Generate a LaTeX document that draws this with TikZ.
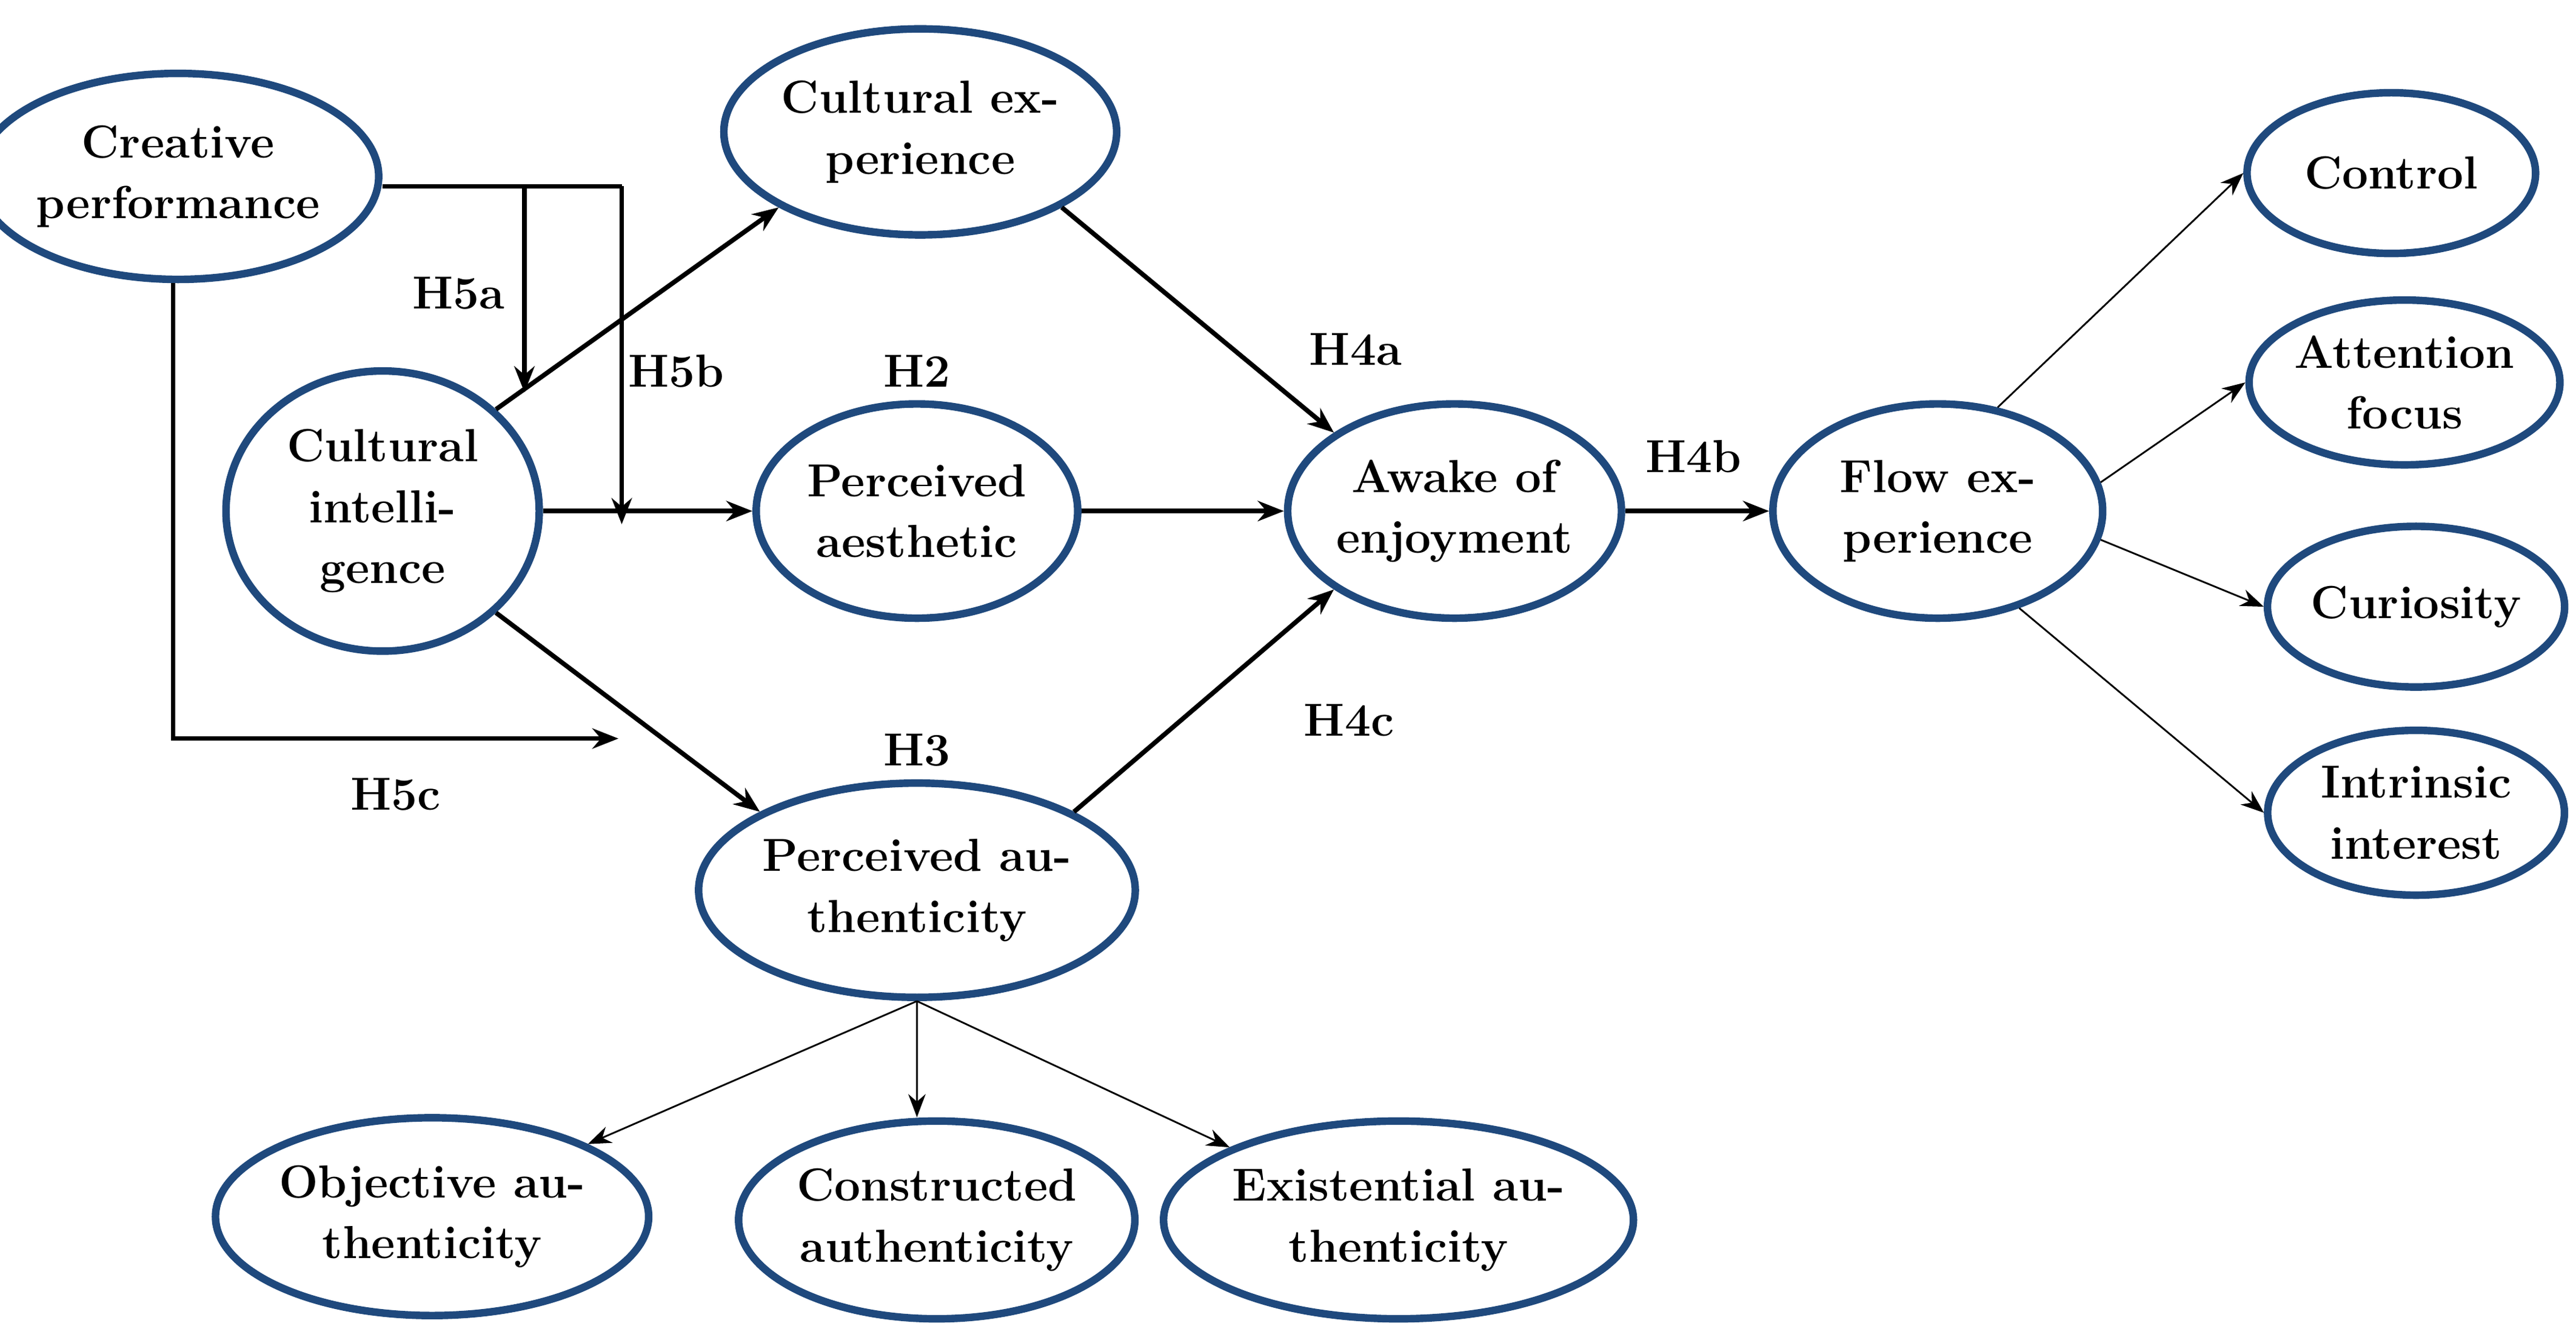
\documentclass[tikz,border=0pt]{standalone}
\usetikzlibrary{shapes.geometric,arrows.meta}
\definecolor{ringblue}{RGB}{31,73,125}
\begin{document}
\begin{tikzpicture}[x=0.02cm, y=-0.02cm,
    construct/.style={ellipse, draw=ringblue, line width=2.6pt, inner sep=0pt,
      align=center, font=\fontsize{16}{21}\selectfont\bfseries},
    path/.style={-{Stealth[length=9pt,width=7pt]}, line width=1.6pt},
    dim/.style={-{Stealth[length=8pt,width=6pt]}, line width=0.6pt},
    hyp/.style={font=\fontsize{16}{19}\selectfont\bfseries}
  ]
  \useasboundingbox (0,0) rectangle (1562,804);
  % constructs
  \node [construct, minimum width=4cm, minimum height=2.5cm] (creative) at (108,107) {Creative\\performance};
  \node [construct, minimum width=3.9cm, minimum height=2.5cm] (culexp) at (558,80) {Cultural ex-\\perience};
  \node [construct, minimum width=3.8cm, minimum height=3.4cm] (culint) at (232,310) {Cultural\\intelli-\\gence};
  \node [construct, minimum width=3.9cm, minimum height=2.6cm] (aesthetic) at (556,310) {Perceived\\aesthetic};
  \node [construct, minimum width=3.9cm, minimum height=2.6cm] (awake) at (882,310) {Awake of\\enjoyment};
  \node [construct, minimum width=4cm, minimum height=2.6cm] (flow) at (1175,310) {Flow ex-\\perience};
  \node [construct, minimum width=3.9cm, minimum height=2.6cm] (authentic) at (556,540) {Perceived au-\\thenticity};
  % flow dimensions
  \node [construct, minimum width=3.5cm, minimum height=1.95cm] (control) at (1450,105) {Control};
  \node [construct, minimum width=3.4cm, minimum height=2cm] (attention) at (1458,232) {Attention\\focus};
  \node [construct, minimum width=3.5cm, minimum height=1.95cm] (curiosity) at (1465,368) {Curiosity};
  \node [construct, minimum width=3.6cm, minimum height=2cm] (intrinsic) at (1465,493) {Intrinsic\\interest};
  % authenticity dimensions
  \node [construct, minimum width=3.9cm, minimum height=2.4cm] (objective) at (262,738) {Objective au-\\thenticity};
  \node [construct, minimum width=4.2cm, minimum height=2.4cm] (constructed) at (568,740) {Constructed\\authenticity};
  \node [construct, minimum width=4cm, minimum height=2.4cm] (existential) at (848,740) {Existential au-\\thenticity};

  \coordinate (m5a) at (318,113);
  \coordinate (m5b) at (377,113);
  \coordinate (t5a) at (318,238);
  \coordinate (t5b) at (377,318);
  \coordinate (c5c) at (105,448);
  \coordinate (t5c) at (375,448);

  \draw [path] (culint.north east) -- (culexp.south west);
  \draw [path] (culexp.south east) -- (awake.north west);
  \draw [path] (culint.east |- aesthetic) -- (aesthetic);
  \draw [path] (aesthetic) -- (awake);
  \draw [path] (culint.south east) -- (authentic.north west);
  \draw [path] (authentic.north east) -- (awake.south west);
  \draw [path] (awake) -- (flow);

  \draw [line width=1.6pt] (creative.east |- m5b) -- (m5b);
  \draw [path] (m5a) -- (t5a);
  \draw [path] (m5b) -- (t5b);
  \draw [path] (creative.south -| c5c) -- (c5c) -- (t5c);

  \draw [dim] (flow.60) -- (control.west);
  \draw [dim] (flow.10) -- (attention.west);
  \draw [dim] (flow.-10) -- (curiosity.west);
  \draw [dim] (flow.-50) -- (intrinsic.west);
  \draw [dim] (authentic.south) -- (objective.north east);
  \draw [dim] (authentic.south) -- (constructed.north -| authentic.south);
  \draw [dim] (authentic.south) -- (existential.north west);

  \node [hyp] (h5a) at (278,178) {H5a};
  \node [hyp] (h5b) at (410,225) {H5b};
  \node [hyp] (h2) at (556,225) {H2};
  \node [hyp] (h4a) at (822,212) {H4a};
  \node [hyp] (h4b) at (1027,277) {H4b};
  \node [hyp] (h3) at (556,455) {H3};
  \node [hyp] (h4c) at (818,437) {H4c};
  \node [hyp] (h5c) at (240,482) {H5c};
\end{tikzpicture}
\end{document}
